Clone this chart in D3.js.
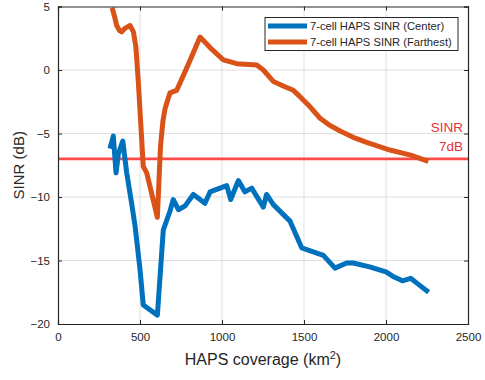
<!DOCTYPE html>
<html>
<head>
<meta charset="utf-8">
<script src="https://cdn.jsdelivr.net/npm/d3@7"></script>
<style>
  html, body { margin: 0; padding: 0; background: #fff; }
  svg { display: block; font-family: Arial, "Liberation Sans", Helvetica, sans-serif; }
</style>
</head>
<body>
<svg id="chart" width="485" height="380"></svg>
<script>
const xTicks = [0, 500, 1000, 1500, 2000, 2500];
const yTicks = [-20, -15, -10, -5, 0, 5];
const seriesNames = ["7-cell HAPS SINR (Center)", "7-cell HAPS SINR (Farthest)"];
const thresholdValue = -7;
const thresholdLabel = ["SINR", "7dB"];

const centerX = [317, 337, 354, 368, 395, 419, 449, 470, 500, 520, 541, 606, 642, 683, 703, 734, 775, 825, 846, 896, 927, 1029, 1053, 1100, 1140, 1181, 1252, 1272, 1313, 1415, 1486, 1618, 1689, 1760, 1800, 1900, 2000, 2050, 2100, 2150, 2200, 2260];
const centerY = [-6.2, -5.2, -8.1, -6.6, -5.6, -8.1, -10.5, -12.3, -15.7, -18.5, -18.7, -19.3, -12.6, -11.1, -10.2, -11.0, -10.7, -9.8, -10.0, -10.5, -9.6, -9.1, -10.2, -8.7, -9.6, -9.3, -10.8, -9.8, -10.6, -11.9, -14.0, -14.6, -15.6, -15.2, -15.2, -15.5, -15.9, -16.3, -16.6, -16.4, -16.9, -17.5];

const farX = [330, 345, 358, 375, 388, 410, 439, 460, 475, 490, 520, 541, 606, 625, 640, 652, 663, 683, 703, 724, 800, 866, 940, 1008, 1090, 1212, 1252, 1313, 1380, 1435, 1476, 1537, 1598, 1650, 1720, 1800, 1882, 2024, 2150, 2258];
const farY = [4.9, 4.2, 3.5, 3.1, 3.0, 3.3, 3.5, 3.0, 1.8, -1.0, -7.6, -8.1, -11.6, -6.0, -4.0, -3.1, -2.6, -1.8, -1.7, -1.6, 0.6, 2.6, 1.6, 0.8, 0.5, 0.4, 0.0, -0.9, -1.3, -1.6, -2.1, -2.9, -3.8, -4.3, -4.8, -5.3, -5.7, -6.3, -6.7, -7.2];

const colors = ["#0072BD", "#D95319"];

const svg = d3.select("#chart");
const L = 58, R = 468, T = 6.5, B = 324;
const x = d3.scaleLinear().domain([0, 2500]).range([L, R]);
const y = d3.scaleLinear().domain([-20, 5]).range([B, T]);
const axisColor = "#262626";

// grid
const grid = svg.append("g");
grid.selectAll(".gx").data(xTicks.slice(1, -1)).enter().append("line")
  .attr("x1", d => x(d)).attr("x2", d => x(d)).attr("y1", T).attr("y2", B)
  .attr("stroke", "#dfdfdf").attr("stroke-width", 1);
grid.selectAll(".gy").data(yTicks.slice(1, -1)).enter().append("line")
  .attr("y1", d => y(d)).attr("y2", d => y(d)).attr("x1", L).attr("x2", R)
  .attr("stroke", "#dfdfdf").attr("stroke-width", 1);

// threshold line
svg.append("line")
  .attr("x1", L).attr("x2", R)
  .attr("y1", y(thresholdValue)).attr("y2", y(thresholdValue))
  .attr("stroke", "#ff2a2a").attr("stroke-opacity", 0.85).attr("stroke-width", 2.6);

// series
const line = d3.line().x(d => x(d[0])).y(d => y(d[1]));
const centerData = centerX.map((v, i) => [v, centerY[i]]);
const farData = farX.map((v, i) => [v, farY[i]]);
[centerData, farData].forEach((data, i) => {
  svg.append("path").datum(data)
    .attr("d", line)
    .attr("fill", "none")
    .attr("stroke", colors[i])
    .attr("stroke-width", 5)
    .attr("stroke-linejoin", "round")
    .attr("stroke-linecap", "butt");
});

// axes
const xAxisB = d3.axisBottom(x).tickValues(xTicks).tickSize(-4).tickPadding(9).tickFormat(d3.format("d"));
const xAxisT = d3.axisTop(x).tickValues(xTicks).tickSize(-4).tickFormat("");
const yAxisL = d3.axisLeft(y).tickValues(yTicks).tickSize(-4).tickPadding(8).tickFormat(d3.format("d"));
const yAxisR = d3.axisRight(y).tickValues(yTicks).tickSize(-4).tickFormat("");

function style(g) {
  g.select(".domain").attr("stroke", axisColor).attr("stroke-width", 1.2);
  g.selectAll(".tick line").attr("stroke", axisColor);
  g.selectAll(".tick text").attr("fill", "#262626").attr("font-size", 11.5)
    .attr("font-family", "Arial, 'Liberation Sans', sans-serif");
}
svg.append("g").attr("transform", `translate(0,${B})`).call(xAxisB).call(style);
svg.append("g").attr("transform", `translate(0,${T})`).call(xAxisT).call(style);
svg.append("g").attr("transform", `translate(${L},0)`).call(yAxisL).call(style);
svg.append("g").attr("transform", `translate(${R},0)`).call(yAxisR).call(style);
svg.selectAll(".domain").attr("d", function() { return d3.select(this).attr("d").replace(/V-?4|V4/g, "V0"); });

// threshold label
svg.append("text").attr("x", 463).attr("y", 132).attr("text-anchor", "end")
  .attr("fill", "#e8303a").attr("font-size", 13.5).text(thresholdLabel[0]);
svg.append("text").attr("x", 463).attr("y", 151).attr("text-anchor", "end")
  .attr("fill", "#e8303a").attr("font-size", 13.5).text(thresholdLabel[1]);

// axis labels
const xl = svg.append("text").attr("x", x(1250)).attr("y", 365).attr("text-anchor", "middle")
  .attr("fill", "#262626").attr("font-size", 16);
xl.append("tspan").text("HAPS coverage (km");
xl.append("tspan").attr("dy", -6).attr("font-size", 11).text("2");
xl.append("tspan").attr("dy", 6).text(")");

svg.append("text").attr("transform", `translate(24,${(T + B) / 2}) rotate(-90)`)
  .attr("text-anchor", "middle").attr("fill", "#262626").attr("font-size", 15)
  .text("SINR (dB)");

// legend
const lg = svg.append("g");
lg.append("rect").attr("x", 265).attr("y", 17.5).attr("width", 193).attr("height", 33)
  .attr("fill", "#fff").attr("stroke", axisColor).attr("stroke-width", 1);
seriesNames.forEach((name, i) => {
  const yy = 26 + i * 16;
  lg.append("line").attr("x1", 268).attr("x2", 307).attr("y1", yy).attr("y2", yy)
    .attr("stroke", colors[i]).attr("stroke-width", 5);
  lg.append("text").attr("x", 310).attr("y", yy + 4).attr("font-size", 11.2)
    .attr("fill", "#262626").text(name);
});
</script>
</body>
</html>
